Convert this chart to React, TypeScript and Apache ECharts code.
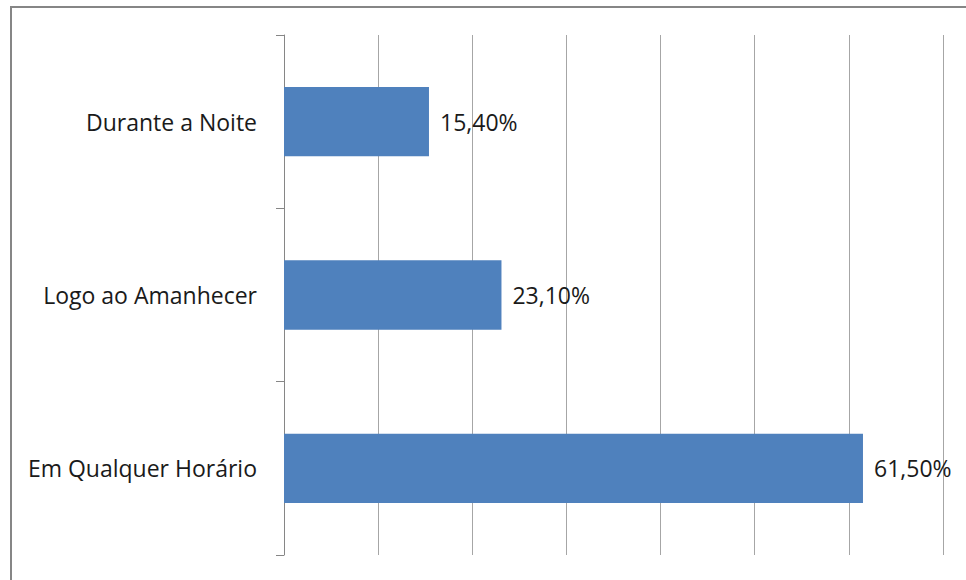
import React, { useEffect, useRef } from "react";
import * as echarts from "echarts";

const categories = ["Em Qualquer Horário", "Logo ao Amanhecer", "Durante a Noite"];
const values = [61.5, 23.1, 15.4];
const valueLabels = ["61,50%", "23,10%", "15,40%"];

export default function App() {
  const ref = useRef<HTMLDivElement>(null);
  useEffect(() => {
    document.body.style.margin = "0";
    const chart = echarts.init(ref.current!, null, { renderer: "svg" });
    chart.setOption({
      animation: false,
      backgroundColor: "#ffffff",
      graphic: [
        {
          type: "rect",
          shape: { x: 11, y: 7, width: 1000, height: 1000 },
          style: { fill: "none", stroke: "#868686", lineWidth: 2 },
          silent: true,
        },
      ],
      grid: { left: 284, right: 23, top: 35, bottom: 25, containLabel: false },
      xAxis: {
        type: "value",
        min: 0,
        max: 70,
        interval: 10,
        axisLabel: { show: false },
        axisLine: { show: false },
        axisTick: { show: false },
        splitLine: { show: true, lineStyle: { color: "#A6A6A6", width: 1 } },
      },
      yAxis: {
        type: "category",
        data: categories,
        axisLine: { show: true, lineStyle: { color: "#868686", width: 1 } },
        axisTick: { show: true, length: 8, lineStyle: { color: "#868686" } },
        axisLabel: {
          margin: 27,
          fontFamily: "Open Sans",
          fontSize: 23,
          color: "#1a1a1a",
          padding: [4, 0, 0, 0],
        },
      },
      series: [
        {
          type: "bar",
          data: values,
          barCategoryGap: "60%",
          itemStyle: { color: "#4F81BD" },
          label: {
            show: true,
            position: "right",
            distance: 11,
            fontFamily: "Open Sans",
            fontSize: 23,
            color: "#1a1a1a",
            padding: [6, 0, 0, 0],
            formatter: (p: any) => valueLabels[p.dataIndex],
          },
        },
      ],
    });
    return () => chart.dispose();
  }, []);
  return <div ref={ref} style={{ width: 966, height: 580 }} />;
}
